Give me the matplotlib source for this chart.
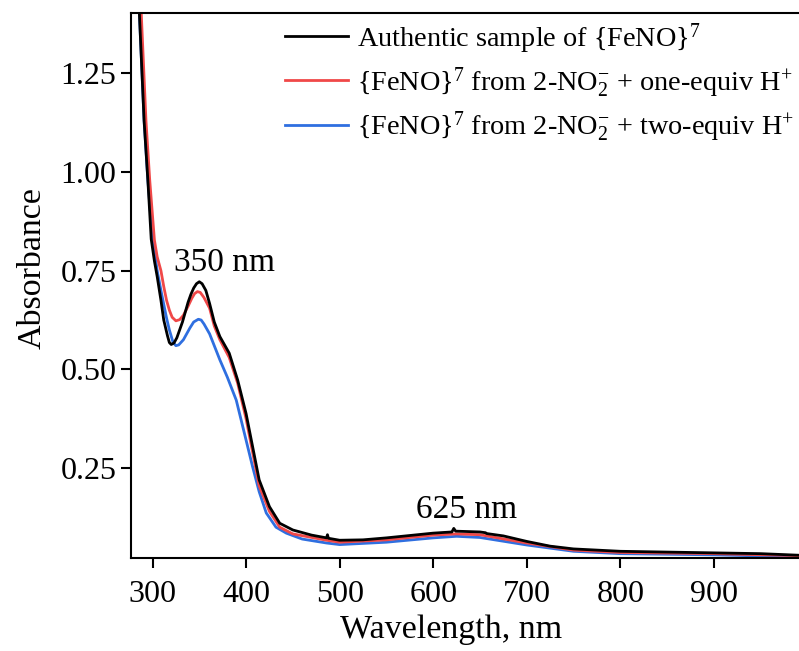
import numpy as np
import matplotlib
matplotlib.use("Agg")
import matplotlib.pyplot as plt

plt.rcParams['font.family'] = 'Liberation Serif'
plt.rcParams['mathtext.fontset'] = 'custom'
plt.rcParams['mathtext.rm'] = 'Liberation Serif'
plt.rcParams['mathtext.it'] = 'Liberation Serif:italic'

# black: authentic sample
wl_black = [280, 286, 291, 295, 298.6, 302, 305, 309, 312, 316, 318, 320, 323, 326, 332, 338, 341, 344, 347,
            350, 353, 357, 361, 366, 372, 382, 391, 400, 407, 414, 425, 436, 450, 470, 486, 487, 488, 500,
            525, 550, 575, 600, 620, 622, 624, 650, 656, 657, 675, 700, 725, 750, 800, 850, 900, 950, 991]
abs_black = [1.75, 1.40, 1.13, 0.98, 0.83, 0.775, 0.735, 0.675, 0.625, 0.585, 0.568, 0.563, 0.567, 0.58,
             0.62, 0.67, 0.69, 0.706, 0.717, 0.722, 0.717, 0.70, 0.667, 0.62, 0.583, 0.541, 0.473, 0.388,
             0.304, 0.22, 0.152, 0.11, 0.093, 0.08, 0.073, 0.081, 0.072, 0.067, 0.068, 0.073, 0.079, 0.085,
             0.088, 0.097, 0.09, 0.088, 0.086, 0.084, 0.078, 0.064, 0.052, 0.045, 0.039, 0.037, 0.035,
             0.033, 0.029]

# red: one-equiv H+
wl_red = [280, 288, 293, 297, 302, 305, 309, 312, 315, 318, 321, 325, 329, 333, 338, 342, 345, 348, 351,
          355, 361, 366, 372, 382, 391, 400, 407, 414, 425, 436, 450, 486, 500, 550, 600, 625, 650, 700,
          750, 800, 900, 991]
abs_red = [1.80, 1.40, 1.13, 0.98, 0.828, 0.785, 0.75, 0.71, 0.675, 0.65, 0.632, 0.623, 0.626, 0.637, 0.66,
           0.68, 0.692, 0.697, 0.695, 0.682, 0.655, 0.61, 0.575, 0.53, 0.465, 0.375, 0.29, 0.205, 0.14,
           0.10, 0.083, 0.067, 0.062, 0.068, 0.080, 0.083, 0.081, 0.060, 0.042, 0.036, 0.033, 0.028]

# blue: two-equiv H+
wl_blue = [280, 286, 291, 295, 300, 305, 309, 312, 315, 318, 322, 325, 328, 333, 340, 344, 349, 352, 355,
           361, 372, 380, 389.5, 398, 407, 414, 421.6, 432, 443, 460, 486, 500, 550, 600, 625, 650, 700,
           750, 800, 900, 991]
abs_blue = [1.80, 1.40, 1.13, 0.98, 0.83, 0.75, 0.70, 0.665, 0.63, 0.60, 0.568, 0.56, 0.562, 0.575, 0.605,
            0.62, 0.627, 0.625, 0.615, 0.59, 0.524, 0.48, 0.422, 0.34, 0.253, 0.19, 0.136, 0.10, 0.085,
            0.07, 0.06, 0.056, 0.062, 0.073, 0.077, 0.074, 0.055, 0.039, 0.033, 0.030, 0.025]

labels = [r'Authentic sample of {FeNO}$^7$',
          r'{FeNO}$^7$ from 2-NO$_2^{-}$ + one-equiv H$^{+}$',
          r'{FeNO}$^7$ from 2-NO$_2^{-}$ + two-equiv H$^{+}$']

fig = plt.figure(figsize=(7.99, 6.51), dpi=100)
ax = fig.add_axes([131 / 799, 1 - 558 / 651, 1 - 131 / 799, (558 - 13) / 651])

l1, = ax.plot(wl_black, abs_black, color='black', lw=2.0, zorder=3)
l2, = ax.plot(wl_red, abs_red, color='#f04848', lw=2.0, zorder=2)
l3, = ax.plot(wl_blue, abs_blue, color='#2f6fe0', lw=2.0, zorder=1)

ax.set_xlim(277, 991)
ax.set_ylim(0.022, 1.403)
ax.set_xticks([300, 400, 500, 600, 700, 800, 900])
ax.set_yticks([0.25, 0.50, 0.75, 1.00, 1.25])
ax.set_yticklabels(['0.25', '0.50', '0.75', '1.00', '1.25'])
ax.tick_params(direction='out', length=7, width=1.5, labelsize=23)
ax.tick_params(axis='x', pad=8.5)
for s in ['left', 'bottom', 'top']:
    ax.spines[s].set_linewidth(1.5)
ax.spines['right'].set_visible(False)

ax.set_xlabel('Wavelength, nm', fontsize=24.5)
ax.set_ylabel('Absorbance', fontsize=24.5)
ax.xaxis.set_label_coords((451 - 131) / 668, -0.103)
ax.yaxis.set_label_coords((48 - 131) / 668, 0.532)

ax.text(377, 0.748, '350 nm', fontsize=24, ha='center', va='baseline')
ax.text(636, 0.123, '625 nm', fontsize=24, ha='center', va='baseline')

ax.legend([l1, l2, l3], labels, loc='upper left', bbox_to_anchor=((285 - 131) / 668, 0.985),
          frameon=False, fontsize=20.3, handlelength=2.25, handletextpad=0.3, borderpad=0,
          borderaxespad=0, labelspacing=0.33)

fig.savefig('out.png', dpi=100)
